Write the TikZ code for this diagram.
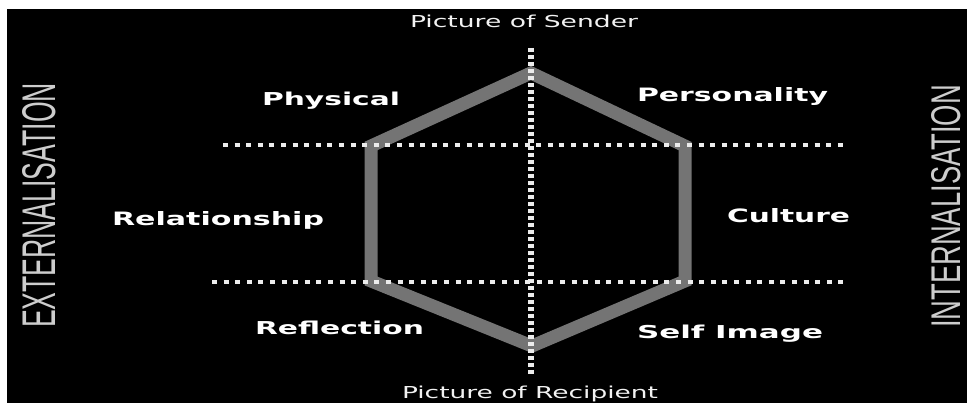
\documentclass[tikz,border=0pt]{standalone}
\usepackage{fontspec}
\usepackage{graphicx}
\setmainfont{DejaVu Sans}
\newfontfamily\sidefont{Liberation Sans}
\definecolor{hexgray}{RGB}{116,116,116}
\definecolor{dotwhite}{RGB}{236,236,236}
\definecolor{sidegray}{RGB}{205,205,205}
\newcommand{\fitto}[3]{\resizebox{#1pt}{#2pt}{#3}}
\begin{document}
\begin{tikzpicture}[x=1pt,y=-1pt,
  lbl/.style={anchor=base west, inner sep=0pt, outer sep=0pt, text=white, font=\bfseries},
  captxt/.style={anchor=base west, inner sep=0pt, outer sep=0pt, text=white!95!black},
  side/.style={anchor=base west, inner sep=0pt, outer sep=0pt, text=sidegray, rotate=90, font=\sidefont},
  hexline/.style={draw=hexgray, line width=13pt, line join=miter},
  hdots/.style={draw=dotwhite, line width=3.5pt, dash pattern=on 5pt off 6.6pt},
  vdots/.style={draw=dotwhite, line width=5.5pt, dash pattern=on 4pt off 3pt}]
\useasboundingbox (0,0) rectangle (967,403);
\fill[white] (0,0) rectangle (967,403);
\fill[black] (7,9) rectangle (967,403);
% hexagon vertices
\coordinate (T) at (531,73);
\coordinate (UR) at (685,146);
\coordinate (LR) at (685,281);
\coordinate (B) at (532,346);
\coordinate (LL) at (371,281);
\coordinate (UL) at (371,146);
\draw[hexline] (T) -- (UR) -- (LR) -- (B) -- (LL) -- (UL) -- cycle;
% dotted axes
\coordinate (ht1) at (223,145);
\coordinate (ht2) at (844,145);
\coordinate (hb1) at (212,282);
\coordinate (hb2) at (844,282);
\coordinate (vt) at (531,48);
\coordinate (vb) at (531,376);
\draw[hdots] (ht1) -- (ht2);
\draw[hdots] (hb1) -- (hb2);
\draw[vdots] (vt) -- (vb);
% captions
\node[captxt] (sender) at (410,28) {\fitto{228}{12.5}{Picture of Sender}};
\node[captxt] (recip) at (402,398) {\fitto{256}{12.5}{Picture of Recipient}};
% labels
\node[lbl] (phys) at (262,106) {\fitto{138}{13.5}{Physical}};
\node[lbl] (pers) at (637,102) {\fitto{191}{14}{Personality}};
\node[lbl] (rel) at (112,225.5) {\fitto{212}{14}{Relationship}};
\node[lbl] (cult) at (727,223) {\fitto{123}{14}{Culture}};
\node[lbl] (refl) at (255,335) {\fitto{169}{13.5}{Reflection}};
\node[lbl] (self) at (637,339) {\fitto{186}{13.5}{Self Image}};
% side texts
\node[side] (ext) at (55,328) {\fitto{245}{33}{EXTERNALISATION}};
\node[side] (int) at (960,328) {\fitto{243}{29}{INTERNALISATION}};
\end{tikzpicture}
\end{document}
